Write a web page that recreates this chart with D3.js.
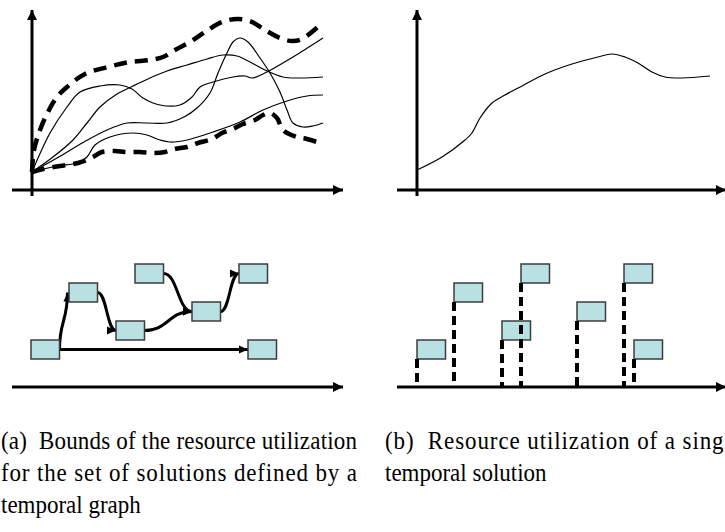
<!DOCTYPE html>
<html>
<head>
<meta charset="utf-8">
<script src="https://cdn.jsdelivr.net/npm/d3@7"></script>
<style>
  body { margin: 0; background: #fff; }
  svg { display: block; }
  .caption { font-family: "Liberation Serif", "Times New Roman", Times, serif; font-size: 25px; fill: #000; }
</style>
</head>
<body>
<svg id="chart" width="725" height="532"></svg>
<script>
// (a) utilisation profiles, [time, usage]
const upperBound = [[0,18],[2,40],[8,60],[16,78],[25,93],[35,103],[53,116],[76,123],[98,128],[118,130],[131,133],[143,140],[158,148],[173,158],[190,168],[205,171],[218,169],[233,160],[248,152],[260,149],[270,151],[288,165]];
const lowerBound = [[0,18],[11,21],[28,24],[46,27],[61,33],[70,38],[83,39],[93,38],[108,38],[120,37],[133,38],[143,41],[155,43],[166,47],[180,51],[190,57],[201,61],[211,66],[223,70],[231,75],[238,77],[245,72],[251,60],[265,53],[275,51],[288,47]];
const solution1 = [[0,18],[18,57],[35,83],[48,98],[68,104],[88,105],[100,101],[111,92],[128,85],[148,85],[160,93],[168,103],[181,108],[201,113],[213,114],[220,112],[235,118],[261,133],[291,152]];
const solution2 = [[0,18],[21,33],[41,50],[55,67],[68,83],[85,96],[101,104],[118,112],[135,119],[155,125],[175,131],[191,135],[205,134],[218,128],[231,121],[251,113],[268,112],[291,113]];
const solution3 = [[0,18],[25,32],[52,48],[75,60],[95,67],[115,67],[135,67],[152,73],[165,82],[178,97],[186,117],[195,137],[201,148],[208,152],[216,148],[228,132],[238,117],[248,98],[255,80],[261,67],[271,63],[281,64],[291,67]];
const solution4 = [[0,18],[25,24],[45,27],[55,33],[63,45],[78,53],[101,57],[115,55],[128,50],[138,48],[155,50],[181,58],[208,68],[231,80],[255,89],[275,94],[291,95]];

// (b) one temporal solution
const singleSolution = [[0,20],[25,33],[48,50],[55,57],[63,72],[75,87],[88,95],[105,104],[128,116],[155,126],[181,133],[195,136],[208,133],[221,127],[235,118],[248,113],[265,112],[293,114]];

// temporal graph: start time and row of each task
const graphTasks = [
  { id: "A", t: -1, level: 0 },
  { id: "B", t: 37, level: 3 },
  { id: "C", t: 84, level: 1 },
  { id: "D", t: 103, level: 4 },
  { id: "E", t: 160, level: 2 },
  { id: "F", t: 207, level: 4 },
  { id: "G", t: 216, level: 0 }
];
const graphEdges = [
  ["A", "B", "vertical"],
  ["A", "G", "straight"],
  ["B", "C", "horizontal"],
  ["C", "E", "horizontal"],
  ["D", "E", "horizontal"],
  ["E", "F", "horizontal"]
];

// single solution: tasks fixed in time
const flagTasks = [
  { t: 0, level: 0 },
  { t: 37, level: 3 },
  { t: 85, level: 1 },
  { t: 104, level: 4 },
  { t: 160, level: 2 },
  { t: 207, level: 4 },
  { t: 217, level: 0 }
];

const captionA = ["(a)  Bounds of the resource utilization", "for the set of solutions defined by a", "temporal graph"];
const captionB = ["(b)  Resource utilization of a single", "temporal solution"];

const taskW = 28.5, taskH = 19;

const svg = d3.select("#chart");
const defs = svg.append("defs");

defs.append("marker")
  .attr("id", "axisHead")
  .attr("viewBox", "0 -5 10 10")
  .attr("refX", 10).attr("refY", 0)
  .attr("markerUnits", "userSpaceOnUse")
  .attr("markerWidth", 11).attr("markerHeight", 10)
  .attr("orient", "auto")
  .append("path").attr("d", "M0,-5L10,0L0,5Z").attr("fill", "#000");

defs.append("marker")
  .attr("id", "edgeHead")
  .attr("viewBox", "0 -5 10 10")
  .attr("refX", 10).attr("refY", 0)
  .attr("markerUnits", "userSpaceOnUse")
  .attr("markerWidth", 10).attr("markerHeight", 9)
  .attr("orient", "auto")
  .append("path").attr("d", "M0,-4.5L10,0L0,4.5Z").attr("fill", "#000");

const xLeft = d3.scaleLinear().domain([0, 300]).range([32, 332]);
const xRight = d3.scaleLinear().domain([0, 300]).range([417, 717]);
const yTop = d3.scaleLinear().domain([0, 180]).range([190, 10]);
const yRow = d3.scaleLinear().domain([0, 4]).range([340, 264]);

function arrowAxis(x1, y1, x2, y2) {
  svg.append("line")
    .attr("x1", x1).attr("y1", y1).attr("x2", x2).attr("y2", y2)
    .attr("stroke", "#000").attr("stroke-width", 3)
    .attr("marker-end", "url(#axisHead)");
}

// top panels: axes
arrowAxis(xLeft(-20), yTop(0), xLeft(311), yTop(0));
arrowAxis(xLeft(0), yTop(-6), xLeft(0), yTop(180));
arrowAxis(xRight(-20), yTop(0), xRight(309), yTop(0));
arrowAxis(xRight(0), yTop(-6), xRight(0), yTop(180));

function curve(x) {
  return d3.line()
    .x(d => x(d[0]))
    .y(d => yTop(d[1]))
    .curve(d3.curveCatmullRom.alpha(0.5));
}

const lineL = curve(xLeft);
[solution1, solution2, solution3, solution4].forEach(s => {
  svg.append("path").attr("d", lineL(s))
    .attr("fill", "none").attr("stroke", "#000").attr("stroke-width", 1.2);
});
[upperBound, lowerBound].forEach(s => {
  svg.append("path").attr("d", lineL(s))
    .attr("fill", "none").attr("stroke", "#000").attr("stroke-width", 4.5)
    .attr("stroke-dasharray", "13,8");
});

svg.append("path").attr("d", curve(xRight)(singleSolution))
  .attr("fill", "none").attr("stroke", "#000").attr("stroke-width", 1.2);

// bottom panels: time axes
const yTime = 387;
arrowAxis(xLeft(-20), yTime, xLeft(311), yTime);
arrowAxis(xRight(-20), yTime, xRight(309), yTime);

// temporal graph
const byId = new Map(graphTasks.map(d => [d.id, d]));
const boxX = d => xLeft(d.t), boxY = d => yRow(d.level);

const edgeG = svg.append("g");
graphEdges.forEach(([s, t, kind]) => {
  const a = byId.get(s), b = byId.get(t);
  const src = [boxX(a) + taskW, boxY(a) + taskH / 2];
  let dst = [boxX(b), boxY(b) + taskH / 2];
  let d;
  if (kind === "vertical") {
    dst = [boxX(b) - 1.5, boxY(b) + taskH / 2];
    d = d3.linkVertical()({ source: src, target: dst });
  } else if (kind === "horizontal") {
    d = d3.linkHorizontal()({ source: src, target: dst });
  } else {
    d = d3.line()([src, dst]);
  }
  edgeG.append("path").attr("d", d)
    .attr("fill", "none").attr("stroke", "#000").attr("stroke-width", 3)
    .attr("marker-end", "url(#edgeHead)");
});

svg.append("g").selectAll("rect").data(graphTasks).join("rect")
  .attr("x", boxX).attr("y", boxY)
  .attr("width", taskW).attr("height", taskH)
  .attr("fill", "#b9e0e3").attr("stroke", "#3c3c3c").attr("stroke-width", 1.5);

// single solution flags
svg.append("g").selectAll("rect").data(flagTasks).join("rect")
  .attr("x", d => xRight(d.t)).attr("y", d => yRow(d.level))
  .attr("width", taskW).attr("height", taskH)
  .attr("fill", "#b9e0e3").attr("stroke", "#3c3c3c").attr("stroke-width", 1.5);

svg.append("g").selectAll("line").data(flagTasks).join("line")
  .attr("x1", d => xRight(d.t)).attr("x2", d => xRight(d.t))
  .attr("y1", d => yRow(d.level) + taskH).attr("y2", yTime)
  .attr("stroke", "#000").attr("stroke-width", 4)
  .attr("stroke-dasharray", "9,5");

// captions (glyphs a bit narrow, like the scanned figure)
const sx = 0.92;
const cap = svg.append("g").attr("class", "caption")
  .attr("transform", `scale(${sx},1)`);

captionA.forEach((txt, i) => {
  const el = cap.append("text").attr("x", 1 / sx).attr("y", 449 + i * 32)
    .attr("xml:space", "preserve").text(txt);
  if (i < captionA.length - 1) el.attr("textLength", 356 / sx).attr("lengthAdjust", "spacing");
});
captionB.forEach((txt, i) => {
  const el = cap.append("text").attr("x", 385 / sx).attr("y", 449 + i * 32)
    .attr("xml:space", "preserve").text(txt);
  if (i < captionB.length - 1) el.attr("textLength", 357 / sx).attr("lengthAdjust", "spacing");
});
</script>
</body>
</html>
